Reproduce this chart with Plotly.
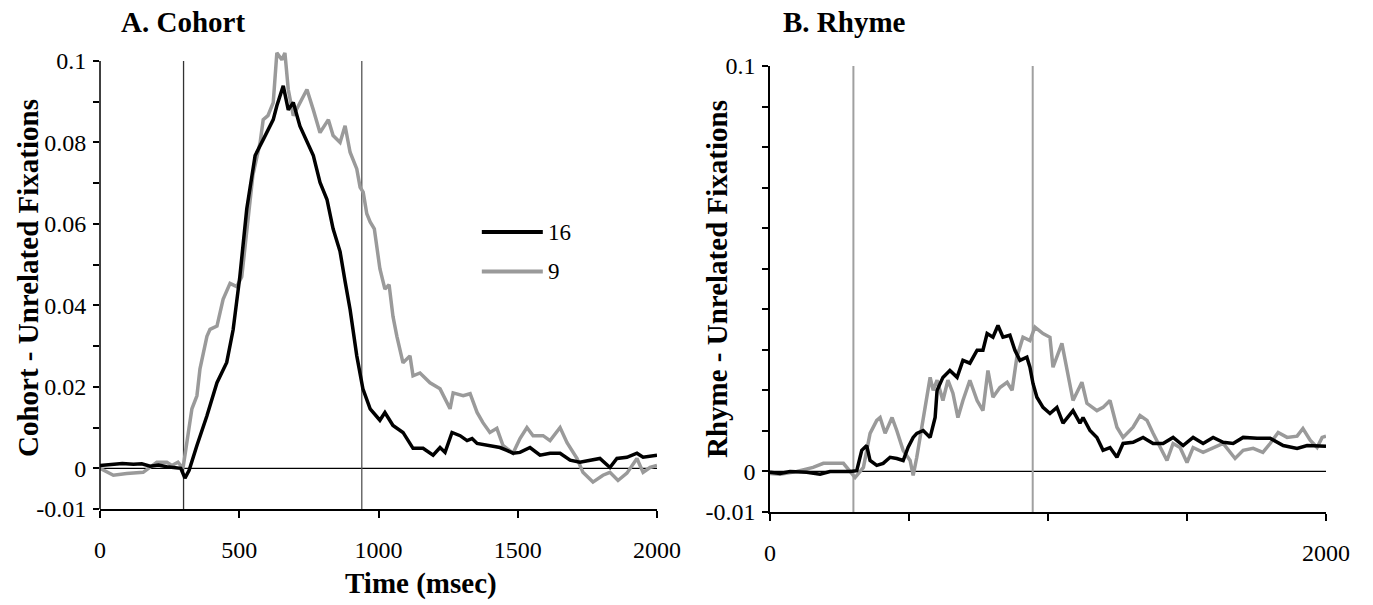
import plotly.graph_objects as go

# ---------------- data ----------------
# Panel A: Cohort - Unrelated fixations, group "16" (black)
cohort16_t = [0, 40, 80, 120, 150, 180, 210, 240, 270, 290,
              305, 320, 348, 384, 420, 455, 478, 491, 502, 527,
              557, 586, 622, 635, 658, 676, 694, 718, 743, 766,
              790, 815, 837, 862, 880, 898, 922, 944, 970, 1005,
              1023, 1052, 1088, 1124, 1160, 1196, 1221, 1239, 1264, 1293,
              1318, 1336, 1354, 1400, 1436, 1461, 1483, 1508, 1544, 1580,
              1616, 1652, 1688, 1723, 1770, 1795, 1831, 1856, 1892, 1928,
              1950, 2000]
cohort16_v = [0.0007, 0.0010, 0.0012, 0.0010, 0.0011, 0.0005, 0.0008, 0.0004, 0.0002, 0.0000,
              -0.0024, -0.0005, 0.0056, 0.0129, 0.0210, 0.0260, 0.0340, 0.0415, 0.0470, 0.0637,
              0.0768, 0.0807, 0.0856, 0.0890, 0.0939, 0.0880, 0.0898, 0.0840, 0.0800, 0.0768,
              0.0702, 0.0660, 0.0588, 0.0532, 0.0459, 0.0390, 0.0276, 0.0195, 0.0146, 0.0118,
              0.0137, 0.0105, 0.0088, 0.0049, 0.0049, 0.0032, 0.0051, 0.0039, 0.0088, 0.0080,
              0.0068, 0.0073, 0.0061, 0.0056, 0.0051, 0.0044, 0.0037, 0.0039, 0.0051, 0.0032,
              0.0037, 0.0037, 0.0020, 0.0015, 0.0020, 0.0024, 0.0002, 0.0024, 0.0027, 0.0037,
              0.0027, 0.0032]

# Panel A: group "9" (gray)
cohort9_t = [0, 48, 96, 155, 204, 240, 258, 280, 298, 312,
             330, 348, 359, 384, 395, 420, 442, 467, 491, 509,
             527, 549, 575, 586, 603, 622, 635, 653, 664, 676,
             694, 718, 743, 766, 790, 820, 837, 862, 880, 898,
             922, 934, 945, 958, 970, 985, 994, 1005, 1023, 1038,
             1052, 1066, 1088, 1113, 1124, 1149, 1185, 1221, 1257, 1268,
             1304, 1329, 1354, 1375, 1400, 1425, 1447, 1483, 1508, 1533,
             1555, 1591, 1616, 1652, 1677, 1713, 1734, 1770, 1806, 1831,
             1860, 1892, 1928, 1950, 1975, 2000]
cohort9_v = [0.0000, -0.0017, -0.0013, -0.0010, 0.0015, 0.0015, 0.0007, 0.0015, 0.0000, 0.0063,
             0.0146, 0.0178, 0.0244, 0.0324, 0.0341, 0.0349, 0.0415, 0.0454, 0.0446, 0.0470,
             0.0588, 0.0720, 0.0800, 0.0856, 0.0866, 0.0898, 0.1020, 0.1003, 0.1020, 0.0930,
             0.0866, 0.0898, 0.0930, 0.0880, 0.0824, 0.0856, 0.0817, 0.0800, 0.0841, 0.0776,
             0.0735, 0.0690, 0.0678, 0.0625, 0.0605, 0.0588, 0.0540, 0.0490, 0.0440, 0.0451,
             0.0373, 0.0324, 0.0259, 0.0276, 0.0227, 0.0234, 0.0210, 0.0195, 0.0146, 0.0185,
             0.0178, 0.0183, 0.0137, 0.0112, 0.0088, 0.0098, 0.0056, 0.0037, 0.0073, 0.0100,
             0.0080, 0.0080, 0.0068, 0.0100, 0.0063, 0.0024, -0.0010, -0.0034, -0.0017, -0.0010,
             -0.0030, -0.0012, 0.0024, -0.0010, 0.0002, 0.0007]

# Panel B: Rhyme - Unrelated fixations, group "16" (black)
rhyme16_t = [0, 36, 72, 132, 180, 216, 288, 312, 330, 348,
             360, 384, 407, 432, 456, 479, 497, 515, 528, 551,
             576, 594, 601, 622, 647, 673, 694, 719, 745, 766,
             781, 802, 820, 838, 863, 881, 899, 924, 935, 946,
             960, 982, 1007, 1032, 1054, 1090, 1115, 1126, 1151, 1176,
             1198, 1223, 1248, 1270, 1306, 1342, 1378, 1414, 1450, 1486,
             1522, 1558, 1594, 1630, 1666, 1702, 1752, 1799, 1846, 1896,
             1932, 2000]
rhyme16_v = [-0.0002, -0.0005, 0.0000, -0.0002, -0.0007, 0.0000, 0.0000, 0.0002, 0.0052, 0.0064,
             0.0027, 0.0015, 0.0020, 0.0035, 0.0032, 0.0027, 0.0060, 0.0084, 0.0094, 0.0101,
             0.0084, 0.0133, 0.0200, 0.0232, 0.0249, 0.0232, 0.0274, 0.0267, 0.0299, 0.0299,
             0.0340, 0.0331, 0.0360, 0.0331, 0.0336, 0.0299, 0.0274, 0.0282, 0.0257, 0.0217,
             0.0183, 0.0158, 0.0143, 0.0158, 0.0119, 0.0150, 0.0119, 0.0133, 0.0101, 0.0084,
             0.0052, 0.0059, 0.0035, 0.0069, 0.0072, 0.0084, 0.0069, 0.0069, 0.0084, 0.0064,
             0.0084, 0.0069, 0.0084, 0.0072, 0.0069, 0.0084, 0.0082, 0.0082, 0.0064, 0.0057,
             0.0064, 0.0062]

# Panel B: group "9" (gray)
rhyme9_t = [0, 36, 96, 155, 192, 264, 288, 306, 336, 360,
            384, 396, 414, 439, 456, 479, 504, 515, 528, 551,
            576, 587, 601, 622, 640, 658, 676, 694, 719, 745,
            766, 784, 802, 827, 853, 871, 888, 910, 935, 953,
            982, 1007, 1018, 1050, 1068, 1090, 1122, 1140, 1176, 1198,
            1223, 1248, 1270, 1306, 1331, 1356, 1378, 1403, 1428, 1450,
            1475, 1500, 1522, 1558, 1594, 1630, 1673, 1702, 1738, 1773,
            1799, 1828, 1860, 1896, 1917, 1943, 1968, 1986, 2000]
rhyme9_v = [-0.0005, -0.0007, 0.0000, 0.0010, 0.0020, 0.0020, 0.0000, -0.0015, 0.0010, 0.0094,
            0.0126, 0.0133, 0.0094, 0.0133, 0.0101, 0.0052, 0.0027, -0.0010, 0.0035, 0.0133,
            0.0232, 0.0200, 0.0225, 0.0175, 0.0225, 0.0193, 0.0133, 0.0175, 0.0225, 0.0175,
            0.0150, 0.0249, 0.0183, 0.0207, 0.0220, 0.0200, 0.0282, 0.0331, 0.0323, 0.0356,
            0.0340, 0.0331, 0.0257, 0.0316, 0.0257, 0.0175, 0.0220, 0.0168, 0.0150, 0.0158,
            0.0175, 0.0109, 0.0084, 0.0109, 0.0138, 0.0126, 0.0094, 0.0059, 0.0027, 0.0069,
            0.0059, 0.0022, 0.0059, 0.0047, 0.0059, 0.0069, 0.0032, 0.0052, 0.0057, 0.0047,
            0.0069, 0.0096, 0.0084, 0.0087, 0.0106, 0.0077, 0.0059, 0.0084, 0.0087]

# axes / labels
x_ticks = [0, 500, 1000, 1500, 2000]
x_labels_a = ["0", "500", "1000", "1500", "2000"]
x_labels_b = ["0", "", "", "", "2000"]
y_ticks = [-0.01, 0, 0.01, 0.02, 0.03, 0.04, 0.05, 0.06, 0.07, 0.08, 0.09, 0.1]
y_labels_a = ["-0.01", "0", "", "0.02", "", "0.04", "", "0.06", "", "0.08", "", "0.1"]
y_labels_b = ["-0.01", "0", "", "", "", "", "", "", "", "", "", "0.1"]
marker_lines_a = [300, 940]
marker_lines_b = [300, 945]
legend_names = ["16", "9"]

# ---------------- figure ----------------
W, H = 1373, 605
SERIF = "Liberation Serif, Times New Roman, serif"
BLACK = "#000000"
GRAY = "#9a9a9a"

# pixel frame of each panel (axis at y=-0.01 .. y=0.1)
A_L, A_R, A_B, A_T = 100, 657, 509, 61
B_L, B_R, B_B, B_T = 770, 1326, 512, 66
Y_MIN, Y_TOP, Y_EXT = -0.01, 0.1, 0.105   # panel A gets head-room for the peak
a_top_px = A_T - (Y_EXT - Y_TOP) * (A_B - A_T) / (Y_TOP - Y_MIN)

fig = go.Figure()

for t, v, col, name, xa, ya in [
    (cohort9_t, cohort9_v, GRAY, "9", "x", "y"),
    (cohort16_t, cohort16_v, BLACK, "16", "x", "y"),
    (rhyme9_t, rhyme9_v, GRAY, "9", "x2", "y2"),
    (rhyme16_t, rhyme16_v, BLACK, "16", "x2", "y2"),
]:
    fig.add_trace(go.Scatter(x=t, y=v, mode="lines", name=name,
                             line=dict(color=col, width=3.5),
                             xaxis=xa, yaxis=ya, showlegend=False,
                             hoverinfo="skip"))

axis_common = dict(showgrid=False, zeroline=False,
                   linecolor="black", linewidth=1.5, ticks="outside",
                   tickcolor="black", tickwidth=1.5,
                   tickfont=dict(family=SERIF, size=24, color="black"))

fig.update_layout(
    width=W, height=H,
    margin=dict(l=0, r=0, t=0, b=0, autoexpand=False),
    showlegend=False,
    paper_bgcolor="white", plot_bgcolor="white",
    xaxis=dict(domain=[A_L / W, A_R / W], range=[0, 2000], anchor="y",
               tickvals=x_ticks, ticktext=x_labels_a, ticklen=7, showline=True,
               ticklabelstandoff=11, **axis_common),
    yaxis=dict(domain=[1 - A_B / H, 1 - a_top_px / H], range=[Y_MIN, Y_EXT], anchor="x",
               tickvals=y_ticks, ticktext=y_labels_a, ticklen=6, showline=False,
               ticklabelstandoff=2, **axis_common),
    xaxis2=dict(domain=[B_L / W, B_R / W], range=[0, 2000], anchor="y2",
                tickvals=x_ticks, ticktext=x_labels_b, ticklen=7, showline=True,
                ticklabelstandoff=11, **axis_common),
    yaxis2=dict(domain=[1 - B_B / H, 1 - B_T / H], range=[Y_MIN, Y_TOP], anchor="x2",
                tickvals=y_ticks, ticktext=y_labels_b, ticklen=6, showline=True,
                ticklabelstandoff=2, **axis_common),
)

shapes = []
# panel A value axis line (ends at 0.1 like the reference)
shapes.append(dict(type="line", xref="paper", yref="paper",
                   x0=A_L / W, x1=A_L / W, y0=1 - A_B / H, y1=1 - A_T / H,
                   line=dict(color="black", width=1.5)))
# zero lines
for xr, yr in [("x", "y"), ("x2", "y2")]:
    shapes.append(dict(type="line", xref=xr, yref=yr, x0=0, x1=2000, y0=0, y1=0,
                       line=dict(color="black", width=1.3), layer="below"))
# vertical markers
for i, xv in enumerate(marker_lines_a):
    shapes.append(dict(type="line", xref="x", yref="y", x0=xv, x1=xv, y0=Y_MIN, y1=Y_TOP,
                       line=dict(color="#333333" if i == 0 else "#555555", width=1.3),
                       layer="below"))
for xv in marker_lines_b:
    shapes.append(dict(type="line", xref="x2", yref="y2", x0=xv, x1=xv, y0=Y_MIN, y1=Y_TOP,
                       line=dict(color="#a0a0a0", width=2), layer="below"))
# legend keys
legend_y = [0.058, 0.0483]
for name, yv, col in zip(legend_names, legend_y, [BLACK, GRAY]):
    shapes.append(dict(type="line", xref="x", yref="y", x0=1371, x1=1590, y0=yv, y1=yv,
                       line=dict(color=col, width=4)))
fig.update_layout(shapes=shapes)

annotations = []
for name, yv in zip(legend_names, legend_y):
    annotations.append(dict(xref="x", yref="y", x=1600, y=yv, text=name,
                            showarrow=False, xanchor="left", yanchor="middle",
                            font=dict(family=SERIF, size=23, color="black")))
bold = dict(family=SERIF, size=29, color="black")
annotations += [
    dict(xref="paper", yref="paper", x=183 / W, y=1 - 22 / H, text="<b>A. Cohort</b>",
         showarrow=False, xanchor="center", yanchor="middle", font=bold),
    dict(xref="paper", yref="paper", x=844 / W, y=1 - 22 / H, text="<b>B. Rhyme</b>",
         showarrow=False, xanchor="center", yanchor="middle", font=bold),
    dict(xref="paper", yref="paper", x=421 / W, y=1 - 583 / H, text="<b>Time (msec)</b>",
         showarrow=False, xanchor="center", yanchor="middle", font=bold),
    dict(xref="paper", yref="paper", x=28 / W, y=1 - 278 / H,
         text="<b>Cohort - Unrelated Fixations</b>", textangle=-90,
         showarrow=False, xanchor="center", yanchor="middle",
         font=dict(family=SERIF, size=29, color="black")),
    dict(xref="paper", yref="paper", x=717 / W, y=1 - 279 / H,
         text="<b>Rhyme - Unrelated Fixations</b>", textangle=-90,
         showarrow=False, xanchor="center", yanchor="middle",
         font=dict(family=SERIF, size=29, color="black")),
]
fig.update_layout(annotations=annotations)

# remove the page's default body margin so the figure sits at the window's corner
fig.write_html("out.html",
               config={"displayModeBar": False},
               post_script="document.body.style.margin='0';document.body.style.overflow='hidden';")
